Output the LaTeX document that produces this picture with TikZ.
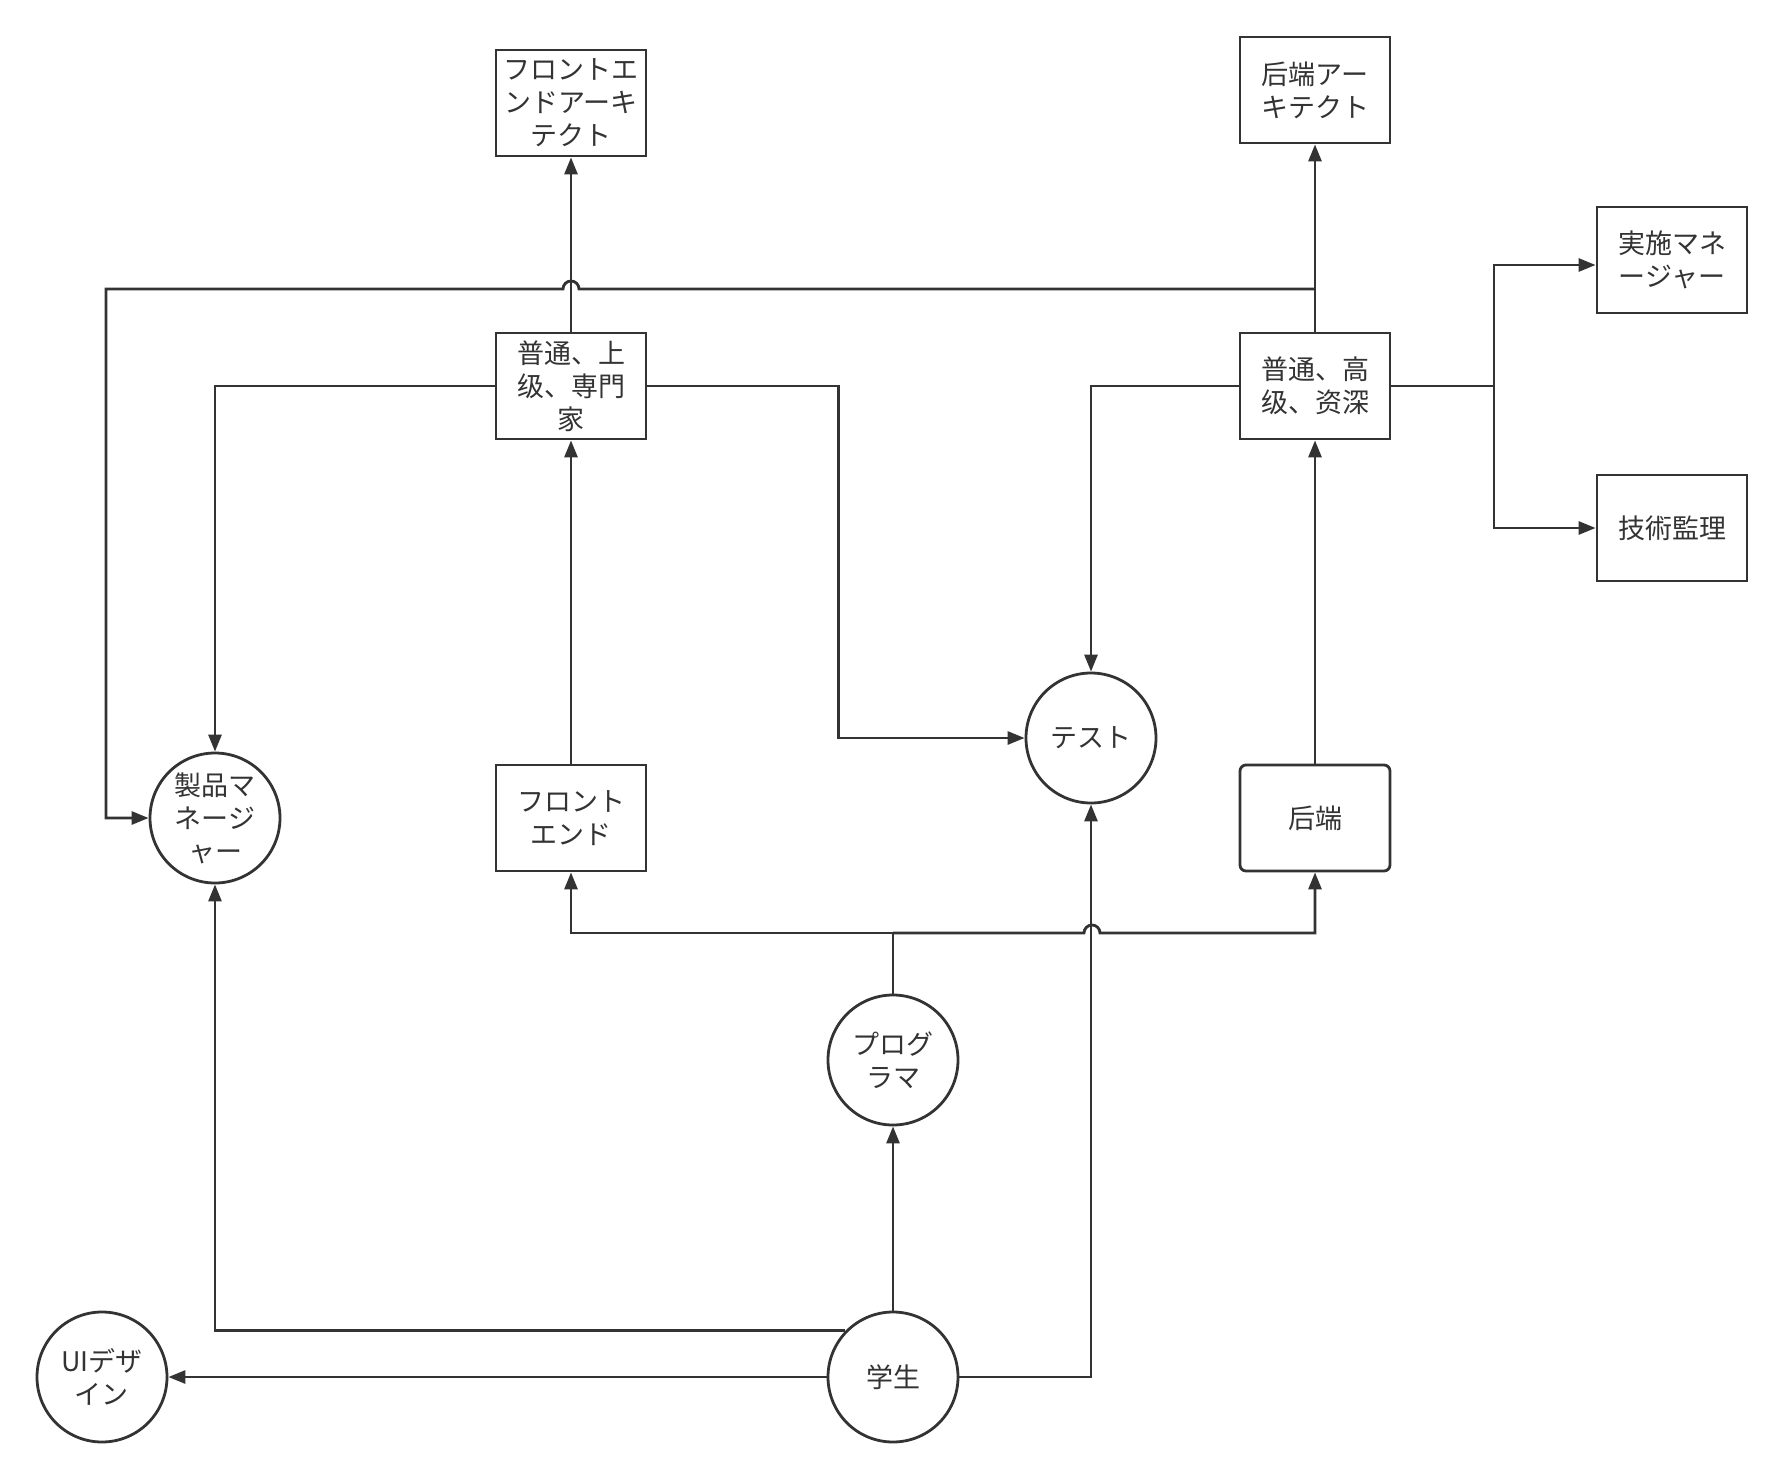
\documentclass[tikz,border=0pt]{standalone}
\usepackage{fontspec}
\usepackage{tikz}
\usetikzlibrary{arrows.meta}
\newfontfamily\jpfont{Noto Sans CJK JP}
\definecolor{linecol}{RGB}{51,51,51}

\begin{document}
\begin{tikzpicture}[x=0.5pt, y=-0.5pt,
    box/.style={draw=linecol, line width=1.4pt, minimum width=75pt, minimum height=53pt,
      align=center, text=linecol, font=\jpfont\fontsize{13.5}{16.5}\selectfont},
    circ/.style={circle, draw=linecol, line width=1.4pt, minimum size=65pt, inner sep=0pt,
      align=center, text=linecol, font=\jpfont\fontsize{13.5}{16.5}\selectfont},
    arr/.style={draw=linecol, line width=1.4pt, -{Triangle[length=8.5pt,width=6.5pt]}}]
  \useasboundingbox (0,0) rectangle (1784,1478);
  % boxes
  \node[box] (farch) at (571,103) {フロントエ\\ンドアーキ\\テクト};
  \node[box] (barch) at (1315,90) {后端アー\\キテクト};
  \node[box] (impl) at (1672,260) {実施マネ\\ージャー};
  \node[box] (tech) at (1672,528) {技術監理};
  \node[box] (fsen) at (571,386) {普通、上\\级、専門\\家};
  \node[box] (bsen) at (1315,386) {普通、高\\级、资深};
  \node[box] (fe) at (571,818) {フロント\\エンド};
  \node[box, rounded corners=3pt] (be) at (1315,818) {后端};
  % circles
  \node[circ] (test) at (1091,738) {テスト};
  \node[circ] (pm) at (215,818) {製品マ\\ネージ\\ャー};
  \node[circ] (prog) at (893,1060) {プログ\\ラマ};
  \node[circ] (stu) at (893,1377) {学生};
  \node[circ] (ui) at (102,1377) {UIデザ\\イン};
  % junctions
  \coordinate (topj) at (1315,289);
  \coordinate (bj) at (1494,386);
  \coordinate (pj) at (893,933);
  % connectors
  \draw[arr] (fsen) -- (farch);
  \draw[arr] (bsen) -- (barch);
  \draw[arr] (fe) -- (fsen);
  \draw[arr] (be) -- (bsen);
  \draw[arr] (stu) -- (prog);
  \draw[arr] (stu) -- (ui);
  \draw[arr] (stu.east) -| (test.south);
  \draw[arr] (stu.136) -| (pm.south);
  \draw[arr] (fsen.west) -| (pm.north);
  \draw[arr] (bsen.west) -| (test.north);
  \draw[arr] (fsen.east) -- ++(191,0) |- (test.west);
  \draw[line width=1.4pt, draw=linecol] (bsen.east) -- (bj);
  \draw[arr] (bj) |- ([yshift=-2.5pt]impl.west);
  \draw[arr] (bj) |- (tech.west);
  \draw[arr] (topj) -- (579,289) arc[start angle=0, end angle=180, radius=4pt]
    -- (106,289) |- (pm.west);
  \draw[line width=1.4pt, draw=linecol] (prog) -- (pj);
  \draw[arr] (pj) -| (fe.south);
  \draw[arr] (pj) -- (1084,933) arc[start angle=180, end angle=0, radius=4pt] -| (be.south);
\end{tikzpicture}
\end{document}
